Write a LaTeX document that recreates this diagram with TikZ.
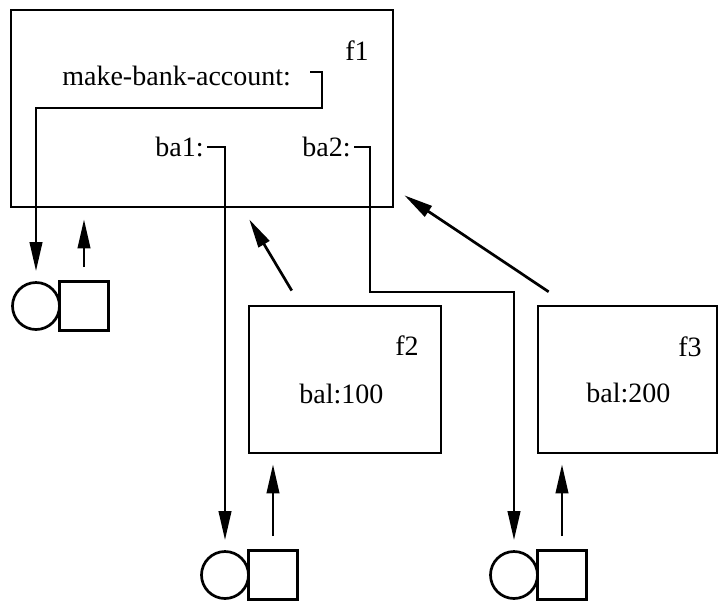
\documentclass[tikz,border=0pt]{standalone}
\usepackage{fontspec}
\setmainfont{Liberation Serif}
\usetikzlibrary{arrows.meta}

\begin{document}
\begin{tikzpicture}[x=0.5pt,y=-0.5pt,
  line width=1.35pt,
  every node/.style={font=\fontsize{14}{16}\selectfont},
  frame/.style={draw, rectangle, inner sep=0pt},
  lbl/.style={inner sep=0pt},
  cell/.style={draw, rectangle, minimum size=24.5pt, inner sep=0pt},
  ring/.style={draw, circle, minimum size=23.5pt, inner sep=0pt},
  arr/.style={-{Triangle[length=14.5pt,width=6.2pt]}},
]
\useasboundingbox (0,0) rectangle (719,602);

% environment frames
\node[frame, minimum width=191pt, minimum height=98.5pt]   (f1) at (202,108.5) {};
\node[frame, minimum width=96pt,  minimum height=73.5pt]   (f2) at (345,379.5) {};
\node[frame, minimum width=89.5pt, minimum height=73.5pt]  (f3) at (627.5,379.5) {};

% frame names
\node[lbl, anchor=base] (n1) at (357,60)  {f1};
\node[lbl, anchor=base] (n2) at (407,355) {f2};
\node[lbl, anchor=base] (n3) at (690,356) {f3};

% bindings
\node[lbl, anchor=base west] (mba) at (61,85)   {make-bank-account:};
\node[lbl, anchor=base east] (ba1) at (205,156) {ba1:};
\node[lbl, anchor=base east] (ba2) at (352,156) {ba2:};
\node[lbl, anchor=base west] (bal1) at (298,403) {bal:100};
\node[lbl, anchor=base west] (bal2) at (585,402) {bal:200};

% procedure objects: code circle + environment square
\node[cell] (sA) at (84,306)  {};
\node[ring] (cA) at (36,306)  {};
\node[cell] (sB) at (273,575) {};
\node[ring] (cB) at (225,575) {};
\node[cell] (sC) at (562,575) {};
\node[ring] (cC) at (514,575) {};

% pointer start points and bends
\coordinate (mb)  at (310,72);
\coordinate (mbk) at (322,108);
\coordinate (b1)  at (207,147);
\coordinate (b2)  at (354,147);
\coordinate (b2k) at (370,292);

% bindings to procedure objects
\draw[arr, shorten >=5pt] (mb) -| (mbk) -| (cA.north);
\draw[arr, shorten >=5pt] (b1) -| (cB.north);
\draw[arr, shorten >=5pt] (b2) -| (b2k) -| (cC.north);

% procedure environments point to their frames
\draw[arr, shorten <=6.5pt, shorten >=5.5pt] (sA.north) -- (sA.north |- f1.south);
\draw[arr, shorten <=6.5pt, shorten >=5pt]   (sB.north) -- (sB.north |- f2.south);
\draw[arr, shorten <=6.5pt, shorten >=5pt]   (sC.north) -- (sC.north |- f3.south);

% enclosing-environment pointers
\draw[arr, shorten <=8.2pt, shorten >=6.4pt]
  ([xshift=26.25pt]f2.north west) -- ([xshift=-75.85pt]f1.south east);
\draw[arr, shorten <=11.6pt, shorten >=6pt]
  ([xshift=15.65pt]f3.north west) -- ([yshift=9.85pt]f1.south east);
\end{tikzpicture}
\end{document}
